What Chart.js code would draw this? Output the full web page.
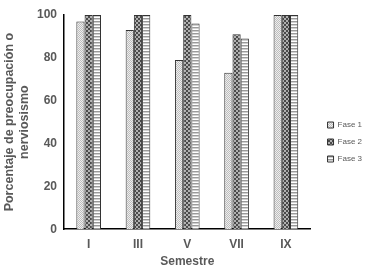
<!DOCTYPE html>
<html>
<head>
<meta charset="utf-8">
<script src="https://cdn.jsdelivr.net/npm/chart.js@4"></script>
<style>
  html, body { margin: 0; padding: 0; background: #fff; }
  #wrap { width: 368px; height: 271px; }
</style>
</head>
<body>
<div id="wrap"><canvas id="barChartCanva"></canvas></div>
<script>
// Data
var semestres = ['I', 'III', 'V', 'VII', 'IX'];
var fase1 = [97, 93, 79, 73, 100];
var fase2 = [100, 100, 100, 91, 100];
var fase3 = [100, 100, 96, 89, 100];
var yTicks = [0, 20, 40, 60, 80, 100];

// Small fill patterns, like the ones in the original
function makePattern(kind) {
    var c = document.createElement('canvas');
    var g = c.getContext('2d');
    if (kind === 'dots') {
        c.width = 2; c.height = 2;
        g.fillStyle = '#eeeeee'; g.fillRect(0, 0, 2, 2);
        g.fillStyle = '#bdbdbd'; g.fillRect(0, 0, 1, 1); g.fillRect(1, 1, 1, 1);
    } else if (kind === 'checks') {
        c.width = 4; c.height = 4;
        g.fillStyle = '#b0b0b0'; g.fillRect(0, 0, 4, 4);
        g.fillStyle = '#4a4a4a';
        g.fillRect(0, 0, 2, 2); g.fillRect(2, 2, 2, 2);
    } else {
        c.width = 3; c.height = 3;
        g.fillStyle = '#ffffff'; g.fillRect(0, 0, 3, 3);
        g.fillStyle = '#9a9a9a'; g.fillRect(0, 0, 3, 1);
        g.fillStyle = '#d0d0d0'; g.fillRect(0, 1, 3, 1);
    }
    return document.createElement('canvas').getContext('2d').createPattern(c, 'repeat');
}

// leave more room between the plot and the legend
var legendGap = {
    id: 'legendGap',
    beforeLayout: function (chart) {
        var lg = chart.legend;
        if (lg && !lg._gapDone) {
            var fit = lg.fit;
            lg.fit = function () { fit.call(this); this.width += 4; };
            lg._gapDone = true;
        }
    },
    afterLayout: function (chart) {
        var lg = chart.legend;
        if (lg) { lg.left += 8; lg.right += 8; }
    }
};

var ctx = document.getElementById('barChartCanva').getContext('2d');

var chartData = {
    labels: semestres,
    datasets: [{
        label: 'Fase 1',
        data: fase1,
        backgroundColor: makePattern('dots'),
        borderColor: '#333333',
        borderWidth: 1
    }, {
        label: 'Fase 2',
        data: fase2,
        backgroundColor: makePattern('checks'),
        borderColor: '#333333',
        borderWidth: 1
    }, {
        label: 'Fase 3',
        data: fase3,
        backgroundColor: makePattern('stripes'),
        borderColor: '#333333',
        borderWidth: 1
    }]
};

var axisFont = { family: 'Liberation Sans, Arial, sans-serif', size: 12, weight: 'bold' };

var chartOptions = {
    responsive: true,
    maintainAspectRatio: false,
    animation: false,
    layout: { padding: { top: 15, right: 0, bottom: 2, left: 2 } },
    datasets: {
        bar: { categoryPercentage: 0.5, barPercentage: 1.0 }
    },
    plugins: {
        legend: {
            position: 'right',
            labels: {
                boxWidth: 6,
                boxHeight: 6,
                padding: 9,
                color: '#595959',
                font: { family: 'Liberation Sans, Arial, sans-serif', size: 8 }
            }
        },
        tooltip: { enabled: false }
    },
    scales: {
        x: {
            grid: { display: false, drawTicks: false },
            border: { color: '#000', width: 1.5 },
            ticks: { color: '#595959', font: axisFont, padding: 8 },
            title: {
                display: true,
                text: 'Semestre',
                color: '#595959',
                font: { family: 'Liberation Sans, Arial, sans-serif', size: 12, weight: 'bold' },
                padding: { top: -5, bottom: 0 }
            }
        },
        y: {
            min: 0,
            max: 100,
            afterBuildTicks: function (axis) {
                axis.ticks = yTicks.map(function (v) { return { value: v }; });
            },
            grid: { display: false, drawOnChartArea: false, drawTicks: true, tickLength: 4, color: '#000' },
            border: { color: '#000', width: 1.5 },
            ticks: { color: '#595959', font: axisFont, padding: 3 },
            title: {
                display: true,
                text: ['Porcentaje de preocupación o', 'nerviosismo'],
                color: '#595959',
                font: { family: 'Liberation Sans, Arial, sans-serif', size: 12.5, weight: 'bold' },
                padding: { top: 0, bottom: 2 }
            }
        }
    }
};

var barChart = new Chart(ctx, {
    type: 'bar',
    data: chartData,
    options: chartOptions,
    plugins: [legendGap]
});
</script>
</body>
</html>
